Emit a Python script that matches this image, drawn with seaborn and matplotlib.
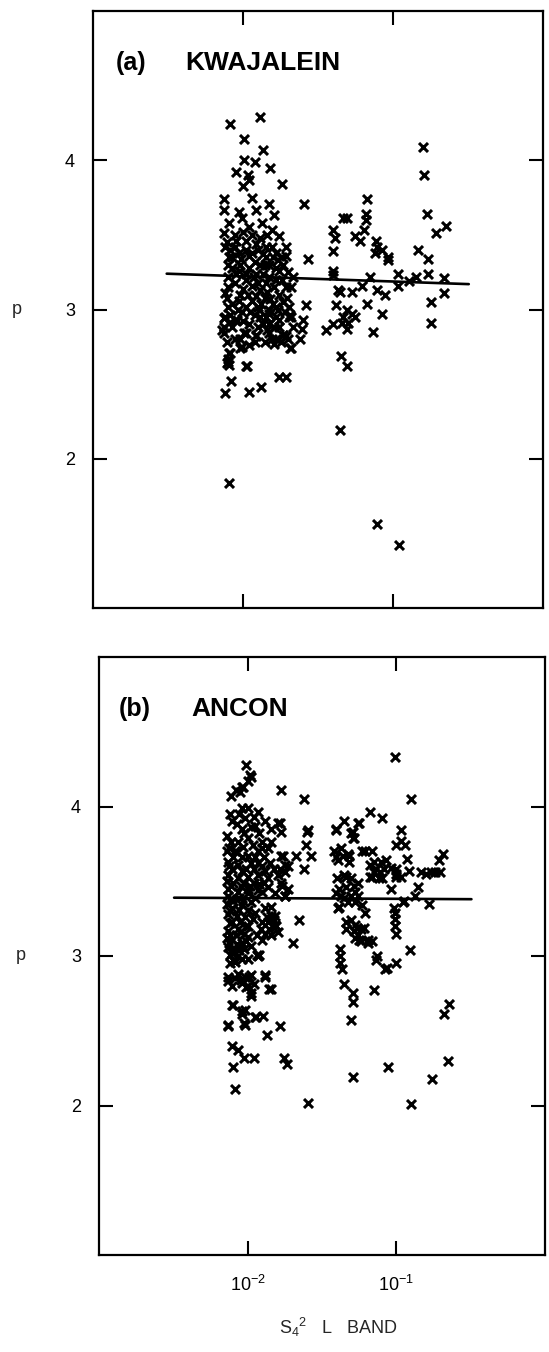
import matplotlib
matplotlib.use("Agg")
import matplotlib.pyplot as plt
from matplotlib.ticker import NullLocator, FixedLocator, FixedFormatter
import seaborn as sns
import pandas as pd

# ---------------- data ----------------
# Panel (a) KWAJALEIN : (S4^2 L band, p)
kwaj_upper = [
    (0.0082, 4.24), (0.0130, 4.29), (0.0102, 4.14), (0.0135, 4.07), (0.0102, 4.00),
    (0.0120, 3.99), (0.0151, 3.95), (0.0090, 3.92), (0.0108, 3.90), (0.0110, 3.87),
    (0.0100, 3.83), (0.0183, 3.84), (0.0115, 3.75), (0.0075, 3.74), (0.0149, 3.71),
    (0.0075, 3.67), (0.0123, 3.67), (0.0160, 3.63), (0.0256, 3.71), (0.0075, 3.51),
    (0.0270, 3.34),
]
kwaj_core = [
    (0.0094, 3.65), (0.0081, 3.58), (0.0098, 3.61), (0.0110, 3.55), (0.0134, 3.58),
    (0.0157, 3.53), (0.0175, 3.49), (0.0194, 3.42), (0.0183, 3.35), (0.0089, 3.42),
    (0.0104, 3.46), (0.0122, 3.44), (0.0142, 3.42), (0.0076, 3.42), (0.0081, 3.35),
    (0.0094, 3.38), (0.0115, 3.38), (0.0142, 3.35), (0.0166, 3.38), (0.0085, 3.35),
    (0.0110, 3.36), (0.0158, 3.35), (0.0194, 3.36), (0.0094, 3.26), (0.0122, 3.24),
    (0.0175, 3.26), (0.0215, 3.22), (0.0104, 3.20), (0.0142, 3.18), (0.0194, 3.15),
    (0.0076, 3.11), (0.0094, 3.06), (0.0122, 3.09), (0.0158, 3.04), (0.0204, 3.02),
    (0.0128, 3.00), (0.0142, 2.95), (0.0175, 2.93), (0.0204, 2.95), (0.0076, 2.95),
    (0.0081, 2.91), (0.0089, 2.93), (0.0073, 2.86), (0.0104, 2.84), (0.0122, 2.82),
    (0.0150, 2.84), (0.0166, 2.80), (0.0194, 2.82), (0.0215, 2.88), (0.0210, 2.74),
    (0.0081, 2.71), (0.0078, 2.64), (0.0104, 2.62), (0.0099, 2.75), (0.0110, 2.76),
    (0.0175, 2.55), (0.0194, 2.55), (0.0083, 2.52), (0.0076, 2.44), (0.0109, 2.45),
    (0.0131, 2.48),
    (0.0088, 3.50), (0.0100, 3.52), (0.0115, 3.50), (0.0130, 3.48), (0.0145, 3.50),
    (0.0095, 3.30), (0.0110, 3.28), (0.0130, 3.30), (0.0150, 3.30), (0.0165, 3.28),
    (0.0185, 3.30), (0.0088, 3.18), (0.0100, 3.14), (0.0115, 3.16), (0.0130, 3.13),
    (0.0160, 3.15), (0.0175, 3.10), (0.0085, 3.04), (0.0105, 3.02), (0.0115, 3.06),
    (0.0140, 3.08), (0.0170, 3.00), (0.0185, 3.05), (0.0120, 2.96), (0.0098, 2.98),
    (0.0110, 2.90), (0.0135, 2.90), (0.0160, 2.88), (0.0080, 3.22), (0.0085, 3.28),
    (0.0200, 3.25), (0.0078, 2.78), (0.0088, 2.80), (0.0140, 2.78), (0.0157, 2.80),
    (0.0185, 2.83), (0.0160, 2.77),
    (0.0078, 3.45), (0.0090, 3.46), (0.0105, 3.40), (0.0125, 3.40), (0.0135, 3.37),
    (0.0155, 3.42), (0.0170, 3.33), (0.0080, 3.30), (0.0090, 3.24), (0.0105, 3.24),
    (0.0118, 3.22), (0.0135, 3.24), (0.0150, 3.22), (0.0165, 3.20), (0.0182, 3.20),
    (0.0080, 3.15), (0.0095, 3.10), (0.0108, 3.10), (0.0125, 3.18), (0.0145, 3.12),
    (0.0152, 3.07), (0.0195, 3.08), (0.0078, 3.08), (0.0092, 3.00), (0.0112, 2.98),
    (0.0132, 3.04), (0.0150, 2.97), (0.0165, 2.95), (0.0190, 2.98), (0.0100, 2.92),
    (0.0125, 2.88), (0.0145, 2.86), (0.0175, 2.88), (0.0085, 2.88), (0.0095, 2.80),
    (0.0120, 2.78), (0.0180, 2.78), (0.0200, 2.80), (0.0082, 3.40), (0.0097, 3.34),
    (0.0120, 3.32), (0.0140, 3.30),
]
kwaj_lower = [
    (0.0081, 1.84), (0.0081, 2.63), (0.0106, 2.62), (0.0206, 2.74), (0.0240, 2.80),
    (0.0096, 2.74), (0.0082, 2.71), (0.0080, 2.67), (0.0080, 2.65), (0.0102, 2.84),
    (0.0123, 2.83), (0.0185, 2.83), (0.0206, 2.96), (0.0075, 2.94), (0.0075, 2.88),
    (0.0075, 2.84), (0.0082, 2.96), (0.0091, 2.93), (0.0130, 2.95), (0.0126, 3.02),
    (0.0149, 3.00), (0.0166, 3.02), (0.0150, 2.90), (0.0080, 3.02),
]
kwaj_right = [
    (0.0400, 3.53), (0.0410, 3.48), (0.0467, 3.61), (0.0497, 3.61), (0.0400, 3.39),
    (0.0400, 3.26), (0.0400, 3.23), (0.0670, 3.74), (0.0660, 3.64), (0.0660, 3.60),
    (0.0636, 3.53), (0.0558, 3.49), (0.0605, 3.46), (0.0775, 3.46), (0.0787, 3.42),
    (0.0763, 3.38), (0.0850, 3.40), (0.0930, 3.35), (0.0920, 3.33), (0.1460, 3.40),
    (0.1710, 3.34), (0.1580, 4.09), (0.1610, 3.90), (0.1680, 3.64), (0.1930, 3.51),
    (0.2260, 3.56), (0.1080, 3.24), (0.1080, 3.16), (0.1420, 3.22), (0.1280, 3.19),
    (0.1710, 3.24), (0.2200, 3.21), (0.2200, 3.11), (0.1790, 3.05), (0.1790, 2.91),
    (0.0705, 3.22), (0.0620, 3.16), (0.0530, 3.12), (0.0431, 3.13), (0.0443, 3.12),
    (0.0780, 3.13), (0.0890, 3.10), (0.0676, 3.04), (0.0845, 2.97), (0.0420, 3.03),
    (0.0490, 3.00), (0.0530, 2.97), (0.0560, 2.95), (0.0467, 2.95), (0.0500, 2.91),
    (0.0455, 2.91), (0.0400, 2.90), (0.0262, 3.03), (0.0251, 2.93), (0.0209, 3.15),
    (0.0209, 2.95), (0.0249, 2.87), (0.0355, 2.86), (0.0738, 2.85), (0.0453, 2.69),
    (0.0491, 2.62), (0.0446, 2.19), (0.0780, 1.56), (0.1090, 1.42), (0.0491, 2.87),
]

# Panel (b) ANCON : (S4^2 L band, p)
ancon_upper = [
    (0.0975, 4.33), (0.0098, 4.28), (0.0104, 4.21), (0.0106, 4.20), (0.0093, 4.13),
    (0.0089, 4.10), (0.0077, 4.07), (0.0101, 4.17), (0.0091, 4.13), (0.0084, 4.11),
    (0.0168, 4.11), (0.0240, 4.05), (0.1256, 4.05), (0.0668, 3.96), (0.0800, 3.92),
]
ancon_core = [
    (0.0101, 3.99), (0.0118, 3.96), (0.0096, 3.92), (0.0130, 3.90), (0.0112, 3.87),
    (0.0091, 3.85), (0.0144, 3.85), (0.0164, 3.89), (0.0168, 3.83), (0.0160, 3.89),
    (0.0144, 3.76), (0.0073, 3.80), (0.0086, 3.76), (0.0101, 3.79), (0.0124, 3.76),
    (0.0082, 3.70), (0.0101, 3.67), (0.0118, 3.70), (0.0137, 3.72), (0.0074, 3.63),
    (0.0086, 3.61), (0.0106, 3.62), (0.0124, 3.60), (0.0141, 3.62), (0.0168, 3.67),
    (0.0177, 3.61), (0.0174, 3.67), (0.0165, 3.58), (0.0179, 3.56), (0.0170, 3.47),
    (0.0179, 3.40), (0.0075, 3.72), (0.0084, 3.70),
    (0.0074, 3.54), (0.0086, 3.52), (0.0101, 3.53), (0.0118, 3.54), (0.0137, 3.52),
    (0.0160, 3.54), (0.0168, 3.49), (0.0187, 3.45), (0.0074, 3.45), (0.0086, 3.43),
    (0.0101, 3.45), (0.0118, 3.44), (0.0137, 3.46),
    (0.0074, 3.40), (0.0101, 3.42), (0.0124, 3.43), (0.0152, 3.42), (0.0177, 3.40),
    (0.0078, 3.32), (0.0091, 3.34), (0.0112, 3.29), (0.0130, 3.32), (0.0152, 3.27),
    (0.0144, 3.33), (0.0078, 3.23), (0.0086, 3.18), (0.0101, 3.20), (0.0124, 3.23),
    (0.0156, 3.20), (0.0144, 3.14), (0.0124, 3.11), (0.0136, 3.23), (0.0152, 3.21),
    (0.0122, 3.18), (0.0116, 3.14), (0.0160, 3.16), (0.0144, 3.27),
    (0.0078, 3.11), (0.0091, 3.09), (0.0106, 3.07), (0.0078, 3.02), (0.0082, 2.96),
    (0.0086, 3.00), (0.0100, 2.98), (0.0119, 3.01), (0.0076, 3.01), (0.0080, 2.97),
    (0.0076, 2.95), (0.0117, 3.00),
    (0.0078, 3.90), (0.0088, 3.95), (0.0110, 3.93), (0.0120, 3.82), (0.0095, 3.82),
    (0.0080, 3.66), (0.0092, 3.66), (0.0112, 3.66), (0.0128, 3.66), (0.0078, 3.58),
    (0.0092, 3.57), (0.0110, 3.58), (0.0130, 3.57), (0.0150, 3.58), (0.0080, 3.49),
    (0.0095, 3.49), (0.0110, 3.49), (0.0128, 3.49), (0.0080, 3.37), (0.0093, 3.37),
    (0.0105, 3.36), (0.0074, 3.28), (0.0085, 3.27), (0.0096, 3.26), (0.0074, 3.17),
    (0.0084, 3.14), (0.0094, 3.15), (0.0074, 3.06), (0.0088, 3.04), (0.0097, 3.10),
    (0.0108, 3.25), (0.0073, 3.12), (0.0073, 3.35), (0.0073, 3.50), (0.0073, 3.70),
    (0.0076, 3.95), (0.0092, 3.99), (0.0105, 3.86), (0.0085, 3.88), (0.0077, 3.76),
    (0.0093, 3.73), (0.0108, 3.74), (0.0125, 3.72), (0.0075, 3.60), (0.0098, 3.58),
    (0.0118, 3.62), (0.0077, 3.47), (0.0090, 3.47), (0.0104, 3.47), (0.0120, 3.48),
    (0.0076, 3.38), (0.0087, 3.39), (0.0112, 3.39), (0.0076, 3.30), (0.0088, 3.31),
    (0.0100, 3.31), (0.0076, 3.22), (0.0089, 3.23), (0.0098, 3.20), (0.0076, 3.14),
    (0.0090, 3.16), (0.0100, 3.13), (0.0075, 3.09), (0.0085, 3.08), (0.0095, 3.05),
    (0.0080, 3.05), (0.0092, 2.98), (0.0135, 3.26), (0.0150, 3.24), (0.0140, 3.18),
    (0.0130, 3.15),
]
ancon_low = [
    (0.0074, 2.86), (0.0082, 2.85), (0.0096, 2.86), (0.0106, 2.87), (0.0101, 2.80),
    (0.0106, 2.73), (0.0130, 2.87), (0.0143, 2.78), (0.0080, 2.67), (0.0096, 2.64),
    (0.0091, 2.61), (0.0112, 2.59), (0.0127, 2.60), (0.0074, 2.54), (0.0096, 2.54),
    (0.0164, 2.53), (0.0134, 2.47), (0.0074, 2.83), (0.0092, 2.82), (0.0102, 2.86),
    (0.0097, 2.79), (0.0105, 2.75), (0.0111, 2.81), (0.0140, 2.78), (0.0078, 2.67),
    (0.0091, 2.63), (0.0094, 2.55), (0.0114, 2.59), (0.0074, 2.53), (0.0078, 2.40),
    (0.0086, 2.37), (0.0094, 2.32), (0.0111, 2.32), (0.0080, 2.26), (0.0082, 2.11),
    (0.0175, 2.32), (0.0183, 2.28), (0.0253, 2.02), (0.0131, 2.86), (0.0078, 2.80),
    (0.0086, 2.88), (0.0090, 2.84), (0.0116, 3.01),
]
ancon_mid = [
    (0.0221, 3.24), (0.0202, 3.09), (0.0250, 3.83), (0.0247, 3.74), (0.0210, 3.67),
    (0.0267, 3.67), (0.0240, 3.58), (0.0254, 3.84), (0.0187, 3.60),
]
ancon_right = [
    (0.0390, 3.84), (0.0447, 3.90), (0.0510, 3.83), (0.0555, 3.89), (0.0510, 3.79),
    (0.0393, 3.85), (0.0562, 3.89), (0.0495, 3.82), (0.0521, 3.79),
    (0.1070, 3.84), (0.1000, 3.74), (0.1150, 3.74), (0.1180, 3.65), (0.1210, 3.57),
    (0.1000, 3.58), (0.1070, 3.77), (0.0990, 3.53), (0.1070, 3.53), (0.0925, 3.45),
    (0.1390, 3.46), (0.1460, 3.56), (0.1580, 3.55), (0.1700, 3.56), (0.1970, 3.56),
    (0.2050, 3.68), (0.1930, 3.64), (0.1830, 3.56), (0.1340, 3.40), (0.1110, 3.36),
    (0.1650, 3.35), (0.1130, 3.37),
    (0.0390, 3.66), (0.0470, 3.68), (0.0423, 3.72), (0.0617, 3.70), (0.0688, 3.70),
    (0.0590, 3.70), (0.0383, 3.70), (0.0435, 3.67), (0.0403, 3.64), (0.0483, 3.67),
    (0.0483, 3.63),
    (0.0668, 3.61), (0.0735, 3.58), (0.0790, 3.63), (0.0705, 3.56), (0.0780, 3.56),
    (0.0668, 3.53), (0.0760, 3.52), (0.0710, 3.63), (0.0848, 3.64), (0.0828, 3.58),
    (0.0690, 3.53), (0.0805, 3.52), (0.0925, 3.59), (0.1000, 3.55),
    (0.0400, 3.52), (0.0447, 3.54), (0.0497, 3.52), (0.0553, 3.49), (0.0412, 3.45),
    (0.0458, 3.46), (0.0525, 3.43), (0.0553, 3.40), (0.0390, 3.42), (0.0447, 3.39),
    (0.0458, 3.53), (0.0521, 3.47), (0.0424, 3.40), (0.0495, 3.40),
    (0.0412, 3.33), (0.0470, 3.36), (0.0525, 3.36), (0.0592, 3.34), (0.0617, 3.29),
    (0.0403, 3.32),
    (0.0458, 3.23), (0.0525, 3.21), (0.0458, 3.18), (0.0580, 3.18), (0.0553, 3.14),
    (0.0580, 3.10), (0.0647, 3.11), (0.0688, 3.10), (0.0525, 3.12), (0.0495, 3.24),
    (0.0548, 3.19), (0.0521, 3.17), (0.0608, 3.19), (0.0562, 3.11), (0.0640, 3.09),
    (0.0975, 3.29), (0.0975, 3.25), (0.0975, 3.20), (0.0990, 3.15), (0.0966, 3.32),
    (0.0745, 3.00), (0.1230, 3.04), (0.0863, 2.92), (0.0993, 2.95),
    (0.0416, 3.05), (0.0416, 3.00), (0.0420, 2.95), (0.0430, 2.91),
    (0.0443, 2.81), (0.0515, 2.75), (0.0510, 2.69), (0.0493, 2.57), (0.0515, 2.19),
    (0.0731, 2.97), (0.0845, 2.91), (0.0705, 2.77), (0.0873, 2.26), (0.1250, 2.01),
    (0.1750, 2.18), (0.2210, 2.30), (0.2090, 2.61), (0.2270, 2.68),
]

# fitted regression lines (end points)
fit_a_x = [0.0031, 0.32]
fit_a_y = [3.24, 3.17]
fit_b_x = [0.0032, 0.32]
fit_b_y = [3.39, 3.38]

panel_titles = [("(a)", "KWAJALEIN"), ("(b)", "ANCON")]
x_ticks = [1e-2, 1e-1]
x_tick_labels = [r"$10^{-2}$", r"$10^{-1}$"]
y_ticks = [2, 3, 4]
y_tick_labels = ["2", "3", "4"]

# ---------------- figure ----------------
sns.set_theme(style="white")
plt.rcParams["font.family"] = ["Liberation Sans", "DejaVu Sans"]
plt.rcParams["mathtext.default"] = "regular"

W, H = 549, 1352
fig = plt.figure(figsize=(W / 100, H / 100), dpi=100)
fig.patch.set_facecolor("white")

ax_a = fig.add_axes([93 / W, 1 - 608 / H, 450 / W, 597 / H])
ax_b = fig.add_axes([99 / W, 1 - 1255 / H, 446 / W, 598 / H])

df_a = pd.DataFrame(kwaj_upper + kwaj_core + kwaj_lower + kwaj_right, columns=["s4sq", "p"])
df_b = pd.DataFrame(ancon_upper + ancon_core + ancon_low + ancon_mid + ancon_right,
                    columns=["s4sq", "p"])

panels = [(ax_a, df_a, fit_a_x, fit_a_y), (ax_b, df_b, fit_b_x, fit_b_y)]
for i, (ax, df, fx, fy) in enumerate(panels):
    ax.set_xscale("log")
    sns.scatterplot(data=df, x="s4sq", y="p", marker="x", color="black",
                    s=42, linewidth=2.2, ax=ax, legend=False, zorder=3)
    sns.lineplot(x=fx, y=fy, color="black", linewidth=1.9, ax=ax, zorder=2)
    ax.set_xlim(1e-3, 1e0)
    ax.set_ylim(1, 5)
    ax.xaxis.set_major_locator(FixedLocator(x_ticks))
    ax.xaxis.set_major_formatter(FixedFormatter(x_tick_labels))
    ax.xaxis.set_minor_locator(NullLocator())
    ax.yaxis.set_major_locator(FixedLocator(y_ticks))
    ax.yaxis.set_major_formatter(FixedFormatter(y_tick_labels))
    ax.yaxis.set_minor_locator(NullLocator())
    ax.tick_params(which="major", direction="in", top=True, right=True,
                   bottom=True, left=True, length=10, width=1.5, color="black",
                   labelsize=13, labelcolor="black")
    ax.tick_params(axis="y", pad=13)
    ax.tick_params(axis="x", pad=14, labelsize=13)
    if i == 0:
        ax.tick_params(axis="x", labelbottom=False)
    ax.set_xlabel("")
    ax.set_ylabel("")
    for sp in ax.spines.values():
        sp.set_visible(True)
        sp.set_color("black")
        sp.set_linewidth(1.6)
    lbl, name = panel_titles[i]
    ax.text(0.05 if i == 0 else 0.045, 0.913, lbl, transform=ax.transAxes,
            ha="left", va="center", fontsize=18, fontweight="bold", color="black")
    ax.text(0.206 if i == 0 else 0.208, 0.913, name, transform=ax.transAxes,
            ha="left", va="center", fontsize=19, fontweight="bold", color="black")

# y-axis label "p" for each panel
fig.text(16.6 / W, 1 - 309 / H, "p", ha="center", va="center", fontsize=13)
fig.text(21 / W, 1 - 956 / H, "p", ha="center", va="center", fontsize=13)

# x-axis label
fig.text(338 / W, 1 - 1327 / H, r"$S_4{}^2$   L   BAND", ha="center", va="center",
         fontsize=13)

fig.savefig("out.png", dpi=100, facecolor="white")
